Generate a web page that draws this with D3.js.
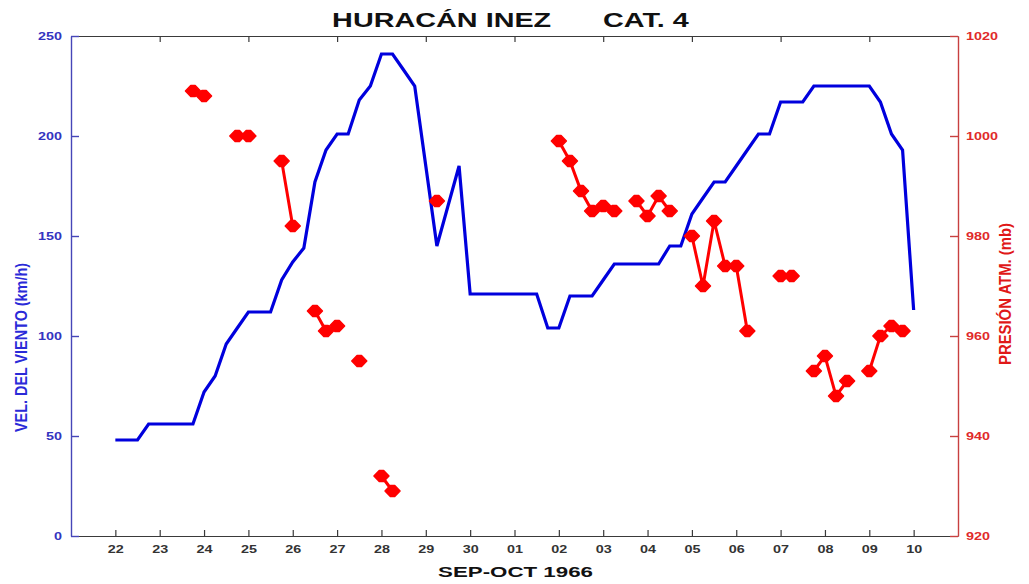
<!DOCTYPE html>
<html>
<head>
<meta charset="utf-8">
<script src="https://cdn.jsdelivr.net/npm/d3@7"></script>
<style>
  html, body { margin: 0; padding: 0; background: #fff; }
  svg { display: block; }
  text { font-family: "Liberation Sans", Arial, Helvetica, sans-serif; font-weight: bold; }
</style>
</head>
<body>
<svg id="chart" width="1029" height="584"></svg>
<script>
// Hurricane Inez, 22 Sep – 10 Oct 1966, six-hourly track observations
const firstObs = Date.UTC(1966, 8, 22, 0);   // 22 Sep 1966 00 UTC
const obsStepHours = 6;

// Day-of-month tick labels along the time axis
const dayLabels = ["22","23","24","25","26","27","28","29","30",
                   "01","02","03","04","05","06","07","08","09","10"];

// Maximum sustained wind (km/h), one value per 6 h
const windKmh = [
  48, 48, 48, 56,      // 22
  56, 56, 56, 56,      // 23
  72, 80, 96, 104,     // 24
  112, 112, 112, 128,  // 25
  137, 144, 177, 193,  // 26
  201, 201, 218, 225,  // 27
  241, 241, 233, 225,  // 28
  185, 145, 165, 185,  // 29
  121, 121, 121, 121,  // 30
  121, 121, 121, 104,  // 01
  104, 120, 120, 120,  // 02
  128, 136, 136, 136,  // 03
  136, 136, 145, 145,  // 04
  161, 169, 177, 177,  // 05
  185, 193, 201, 201,  // 06
  217, 217, 217, 225,  // 07
  225, 225, 225, 225,  // 08
  225, 217, 201, 193,  // 09
  113                  // 10
];

// Central pressure (mb); null where no reading was taken
const pressureMb = [
  null, null, null, null,   // 22
  null, null, null, 1009,   // 23
  1008, null, null, 1000,   // 24
  1000, null, null, 995,    // 25
  982, null, 965, 961,      // 26
  962, null, 955, null,     // 27
  932, 929, null, null,     // 28
  null, 987, null, null,    // 29
  null, null, null, null,   // 30
  null, null, null, null,   // 01
  999, 995, 989, 985,       // 02
  986, 985, null, 987,      // 03
  984, 988, 985, null,      // 04
  980, 970, 983, 974,       // 05
  974, 961, null, null,     // 06
  972, 972, null, 953,      // 07
  956, 948, 951, null,      // 08
  953, 960, 962, 961,       // 09
  null                      // 10
];

const windTicks = [0, 50, 100, 150, 200, 250];
const pressureTicks = [920, 940, 960, 980, 1000, 1020];

const titleMain = "HURACÁN INEZ";
const titleCat = "CAT. 4";
const xTitle = "SEP-OCT 1966";
const windTitle = "VEL. DEL VIENTO (km/h)";
const pressureTitle = "PRESIÓN ATM. (mb)";

// ---- layout & styles ----
const plot = { left: 71, right: 958, top: 36, bottom: 536 };
const stretch = 1.44;            // wide lettering used throughout the figure
const blueLine = "#0000dd", blueAxis = "#4646b8", blueText = "#3434c0";
const redLine = "#ff0000", redAxis = "#c84040", redText = "#e02a2a";
const greyAxis = "#3a3a3a", greyText = "#333333";

const svg = d3.select("#chart");

const times = windKmh.map((_, i) => new Date(firstObs + i * obsStepHours * 3600e3));
const dayTicks = dayLabels.map((_, i) => d3.utcDay.offset(new Date(firstObs), i));

const x = d3.scaleUtc()
  .domain([d3.utcDay.offset(new Date(firstObs), -1), d3.utcDay.offset(new Date(firstObs), 19)])
  .range([plot.left, plot.right]);
const yWind = d3.scaleLinear().domain([0, 250]).range([plot.bottom, plot.top]);
const yPres = d3.scaleLinear().domain([920, 1020]).range([plot.bottom, plot.top]);

// ---- bottom axis (every day) ----
const gx = svg.append("g")
  .attr("transform", `translate(0,${plot.bottom})`)
  .call(d3.axisBottom(x).tickValues(dayTicks)
    .tickFormat((d, i) => dayLabels[i]).tickSizeInner(-6).tickSizeOuter(0));
gx.select(".domain").attr("stroke", greyAxis).attr("stroke-width", 1.2);
gx.selectAll(".tick line").attr("stroke", greyAxis).attr("stroke-width", 1.2);
gx.selectAll(".tick text")
  .attr("y", 0).attr("dy", 0)
  .attr("transform", `translate(0,16.5) scale(${stretch},1)`)
  .attr("fill", greyText).attr("font-size", 10).attr("font-family", null);

// ---- top frame (ticks on alternate days) ----
const gTop = svg.append("g")
  .attr("transform", `translate(0,${plot.top})`)
  .call(d3.axisTop(x).tickValues(dayTicks.filter((d, i) => i % 2 === 1))
    .tickFormat("").tickSizeInner(-6).tickSizeOuter(0));
gTop.select(".domain").attr("stroke", greyAxis).attr("stroke-width", 1.2);
gTop.selectAll(".tick line").attr("stroke", greyAxis).attr("stroke-width", 1.2);

// ---- left axis (wind) ----
const gl = svg.append("g")
  .attr("transform", `translate(${plot.left},0)`)
  .call(d3.axisLeft(yWind).tickValues(windTicks).tickFormat(d3.format("d"))
    .tickSizeInner(-8).tickSizeOuter(0));
gl.select(".domain").attr("stroke", blueAxis).attr("stroke-width", 1.4);
gl.selectAll(".tick line").attr("stroke", blueAxis).attr("stroke-width", 1.4);
gl.selectAll(".tick text")
  .attr("x", 0)
  .attr("transform", `translate(-9,0) scale(${stretch},1)`)
  .attr("text-anchor", "end")
  .attr("fill", blueText).attr("font-size", 10).attr("font-family", null);

// ---- right axis (pressure) ----
const gr = svg.append("g")
  .attr("transform", `translate(${plot.right},0)`)
  .call(d3.axisRight(yPres).tickValues(pressureTicks).tickFormat(d3.format("d"))
    .tickSizeInner(-8).tickSizeOuter(0));
gr.select(".domain").attr("stroke", redAxis).attr("stroke-width", 1.4);
gr.selectAll(".tick line").attr("stroke", redAxis).attr("stroke-width", 1.4);
gr.selectAll(".tick text")
  .attr("x", 0)
  .attr("transform", `translate(8,0) scale(${stretch},1)`)
  .attr("text-anchor", "start")
  .attr("fill", redText).attr("font-size", 10).attr("font-family", null);

// ---- wind speed line ----
const windLine = d3.line()
  .x((d, i) => x(times[i]))
  .y(d => yWind(d));
svg.append("path")
  .datum(windKmh)
  .attr("d", windLine)
  .attr("fill", "none")
  .attr("stroke", blueLine)
  .attr("stroke-width", 3.2)
  .attr("stroke-linejoin", "miter");

// ---- pressure line with diamond markers, broken where readings are missing ----
const presLine = d3.line()
  .defined(d => d != null)
  .x((d, i) => x(times[i]))
  .y(d => yPres(d));
svg.append("path")
  .datum(pressureMb)
  .attr("d", presLine)
  .attr("fill", "none")
  .attr("stroke", redLine)
  .attr("stroke-width", 3);

const marker = "M-7.5,0L-2.2,-5.6L2.2,-5.6L7.5,0L2.2,5.6L-2.2,5.6Z";
svg.append("g")
  .selectAll("path")
  .data(pressureMb.map((v, i) => ({ v, t: times[i] })).filter(d => d.v != null))
  .join("path")
  .attr("d", marker)
  .attr("transform", d => `translate(${x(d.t)},${yPres(d.v)})`)
  .attr("fill", redLine)
  .attr("stroke", redLine)
  .attr("stroke-width", 1.5)
  .attr("stroke-linejoin", "round");

// ---- titles ----
const title = svg.append("text")
  .attr("transform", `translate(510.5,27) scale(${stretch},1)`)
  .attr("text-anchor", "middle")
  .attr("font-size", 20)
  .attr("fill", "#111");
title.append("tspan").text(titleMain);
title.append("tspan").attr("dx", 36).text(titleCat);

svg.append("text")
  .attr("transform", `translate(515.5,576.5) scale(${stretch},1)`)
  .attr("text-anchor", "middle")
  .attr("font-size", 15.5)
  .attr("fill", "#111")
  .text(xTitle);

svg.append("text")
  .attr("transform", "translate(27,347.5) rotate(-90)")
  .attr("text-anchor", "middle")
  .attr("font-size", 16)
  .attr("textLength", 169)
  .attr("lengthAdjust", "spacingAndGlyphs")
  .attr("fill", "#2a2ad8")
  .text(windTitle);

svg.append("text")
  .attr("transform", "translate(1011,294) rotate(-90)")
  .attr("text-anchor", "middle")
  .attr("font-size", 16)
  .attr("textLength", 142)
  .attr("lengthAdjust", "spacingAndGlyphs")
  .attr("fill", "#e01818")
  .text(pressureTitle);
</script>
</body>
</html>
